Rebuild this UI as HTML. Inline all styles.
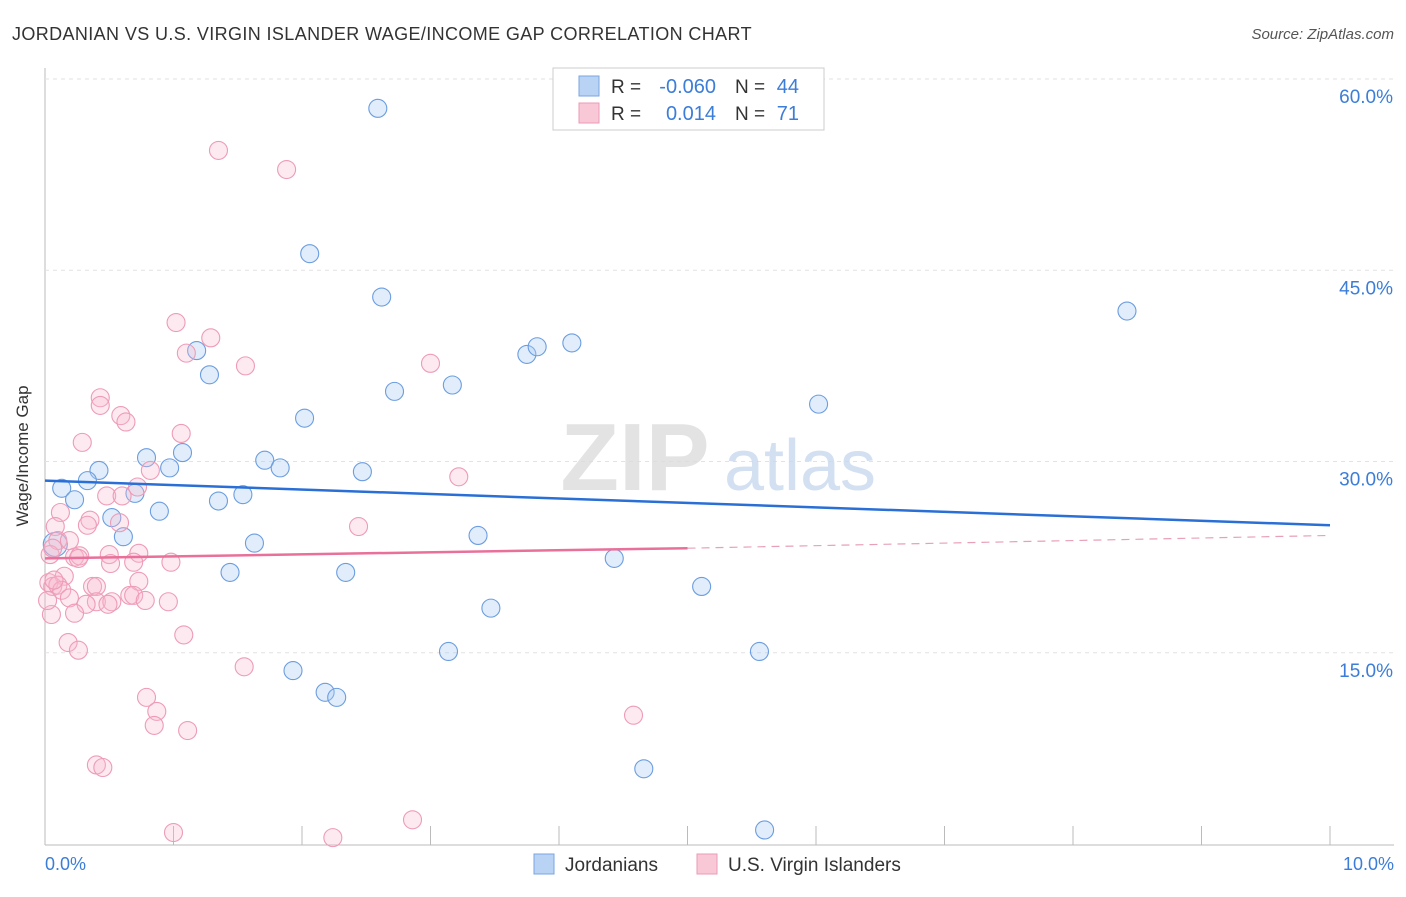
<!DOCTYPE html>
<html><head><meta charset="utf-8"><style>
body{margin:0;background:#fff;font-family:"Liberation Sans",sans-serif;}
svg text{font-family:"Liberation Sans",sans-serif;}
</style></head><body>
<svg width="1406" height="892" viewBox="0 0 1406 892">
<text x="12" y="40" font-size="18" fill="#333" letter-spacing="0.4" textLength="740">JORDANIAN VS U.S. VIRGIN ISLANDER WAGE/INCOME GAP CORRELATION CHART</text>
<text x="1394" y="39" font-size="15" fill="#555" font-style="italic" text-anchor="end">Source: ZipAtlas.com</text>
<g id="grid"></g>
<g>
<text x="635" y="490" font-size="96" font-family="Liberation Serif" fill="#ddd" text-anchor="middle" font-weight="bold" opacity="0.8">ZIP</text>
<text x="800" y="490" font-size="72" fill="#c9d9ef" text-anchor="middle" opacity="0.8">atlas</text>
</g>
<g id="marks"></g>
<text x="28" y="456" font-size="17" fill="#333" text-anchor="middle" transform="rotate(-90 28 456)">Wage/Income Gap</text>
<text x="45" y="870" font-size="18" fill="#3b7dd8">0.0%</text>
<text x="1394" y="870" font-size="18" fill="#3b7dd8" text-anchor="end">10.0%</text>
<g>
<rect x="553" y="68" width="271" height="62" fill="#fff" stroke="#ccc"/>
<rect x="579" y="76" width="20" height="20" fill="#b9d3f5" stroke="#7aa6e0"/>
<rect x="579" y="103" width="20" height="20" fill="#f9c8d7" stroke="#eb9ab4"/>
<text x="611" y="93" font-size="19" fill="#333">R =</text>
<text x="716" y="93" font-size="20" fill="#3b7dd8" text-anchor="end">-0.060</text>
<text x="735" y="93" font-size="19" fill="#333">N =</text>
<text x="799" y="93" font-size="20" fill="#3b7dd8" text-anchor="end">44</text>
<text x="611" y="120" font-size="19" fill="#333">R =</text>
<text x="716" y="120" font-size="20" fill="#3b7dd8" text-anchor="end">0.014</text>
<text x="735" y="120" font-size="19" fill="#333">N =</text>
<text x="799" y="120" font-size="20" fill="#3b7dd8" text-anchor="end">71</text>
</g>
<g>
<rect x="534" y="854" width="20" height="20" fill="#b9d3f5" stroke="#7aa6e0"/>
<text x="565" y="871" font-size="19" fill="#333">Jordanians</text>
<rect x="697" y="854" width="20" height="20" fill="#f9c8d7" stroke="#eb9ab4"/>
<text x="728" y="871" font-size="19" fill="#333">U.S. Virgin Islanders</text>
</g>
</svg>
<script>
const yTicks=[15,30,45,60];
const yTickLabels=["15.0%","30.0%","45.0%","60.0%"];
const xTicks=[1,2,3,4,5,6,7,8,9,10];
const blueX=[2.59,2.06,2.62,8.42,1.18,3.75,3.83,4.10,1.28,2.72,3.17,6.02,2.02,0.79,1.07,0.42,0.97,1.71,1.83,2.47,0.13,0.33,0.23,0.70,1.35,1.54,0.89,0.52,0.61,3.37,1.63,0.08,4.43,1.44,2.34,5.11,3.47,3.14,5.56,1.93,2.18,2.27,4.66,5.60];
const blueY=[57.7,46.3,42.9,41.8,38.7,38.4,39.0,39.3,36.8,35.5,36.0,34.5,33.4,30.3,30.7,29.3,29.5,30.1,29.5,29.2,27.9,28.5,27.0,27.5,26.9,27.4,26.1,25.6,24.1,24.2,23.6,23.5,22.4,21.3,21.3,20.2,18.5,15.1,15.1,13.6,11.9,11.5,5.9,1.1];
const pinkX=[1.35,1.88,1.02,1.29,1.10,1.56,3.00,0.43,0.43,0.59,0.63,0.29,1.06,0.82,3.22,0.72,0.48,0.60,0.12,0.35,0.33,0.58,0.08,2.44,0.10,0.19,0.23,0.27,0.26,0.50,0.73,0.51,0.69,0.04,0.98,0.15,0.03,0.06,0.10,0.13,0.37,0.40,0.73,0.19,0.40,0.52,0.49,0.66,0.69,0.78,0.96,0.32,0.05,0.23,0.18,0.26,1.08,1.55,0.79,0.87,0.85,1.11,4.58,0.40,0.45,1.00,2.24,2.86,0.06,0.02,0.07];
const pinkY=[54.4,52.9,40.9,39.7,38.5,37.5,37.7,35.0,34.4,33.6,33.1,31.5,32.2,29.3,28.8,28.0,27.3,27.3,26.0,25.4,25.0,25.2,24.9,24.9,23.8,23.8,22.5,22.6,22.4,22.7,22.8,22.0,22.1,22.7,22.1,21.0,20.5,20.2,20.3,19.9,20.2,20.2,20.6,19.3,19.0,19.0,18.8,19.5,19.5,19.1,19.0,18.8,18.0,18.1,15.8,15.2,16.4,13.9,11.5,10.4,9.3,8.9,10.1,6.2,6.0,0.9,0.5,1.9,23.2,19.1,20.7];
const blueTrend=[28.5,25.0];
const pinkTrend=[22.4,23.2,24.2];
const X=v=>45+v*128.5, Y=v=>844-v*12.75;
const NS="http://www.w3.org/2000/svg";
function mk(t,a,p){const e=document.createElementNS(NS,t);for(const k in a)e.setAttribute(k,a[k]);p.appendChild(e);return e;}
const g=document.getElementById('grid'), m=document.getElementById('marks');
let ax=mk('line',{x1:45,y1:68,x2:45,y2:845,stroke:'#bbb'},g);


let bx=mk('line',{x1:45,y1:845,x2:1394,y2:845,stroke:'#bbb'},g);


yTicks.forEach((t,i)=>{
 const l=mk('line',{x1:45,y1:Y(t),x2:1394,y2:Y(t),stroke:'#e2e2e2','stroke-dasharray':'4 4'},g);
 
 
 const tx=mk('text',{x:1393,y:Y(t)+24,'font-size':19,fill:'#3b7dd8','text-anchor':'end'},g);
 tx.textContent=yTickLabels[i];
 
 
});
xTicks.forEach(t=>{
 const l=mk('line',{x1:X(t),y1:826,x2:X(t),y2:845,stroke:'#bbb'},g);
 
 
});
blueX.forEach((v,i)=>{
 const c=mk('circle',{cx:X(v),cy:Y(blueY[i]),r:i==31?12:9,fill:'rgba(170,202,242,0.35)',stroke:'#6b9de0','stroke-width':1.1},m);
 
 
});
pinkX.forEach((v,i)=>{
 const c=mk('circle',{cx:X(v),cy:Y(pinkY[i]),r:9,fill:'rgba(248,185,205,0.3)',stroke:'#ee9bb7','stroke-width':1.1},m);
 
 
});
const bl=mk('line',{x1:X(0),y1:Y(blueTrend[0]),x2:X(10),y2:Y(blueTrend[1]),stroke:'#2a6fd6','stroke-width':2.5},m);


const pl=mk('line',{x1:X(0),y1:Y(pinkTrend[0]),x2:X(5),y2:Y(pinkTrend[1]),stroke:'#e8709a','stroke-width':2.5},m);


const pd=mk('line',{x1:X(5),y1:Y(pinkTrend[1]),x2:X(10),y2:Y(pinkTrend[2]),stroke:'#e8a0b8','stroke-width':1.2,'stroke-dasharray':'8 6'},m);


</script>
</body></html>
